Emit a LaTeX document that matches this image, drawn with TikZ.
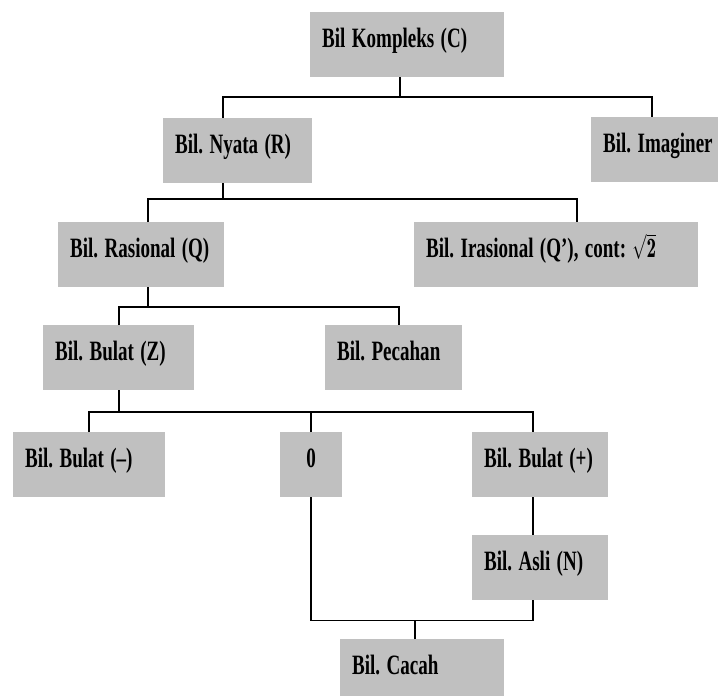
\documentclass[tikz,border=0pt]{standalone}
\usepackage{fontspec}
\usepackage{graphicx}
\newfontfamily\boxfont{Liberation Serif}
\newcommand{\sq}[1]{\scalebox{0.68}[1]{#1}}
\definecolor{boxgray}{HTML}{C0C0C0}
\begin{document}
\begin{tikzpicture}[x=1pt,y=-1pt,
  box/.style={fill=boxgray, anchor=north west, inner xsep=12pt, inner ysep=0pt,
    minimum height=65pt, align=left, text height=15pt, text depth=10pt,
    font=\boxfont\bfseries\frenchspacing\fontsize{28}{30}\selectfont},
  link/.style={draw=black, line width=1.8pt}]
\useasboundingbox (0,0) rectangle (719,695);
\clip (0,0) rectangle (719,695);
% boxes
\node[box, text width=170pt] (komplek) at (310,12) {\sq{Bil Kompleks (C)}};
\node[box, text width=125pt] (nyata) at (163,118) {\sq{Bil. Nyata (R)}};
\node[box, text width=103pt] (imaginer) at (591,117) {\sq{Bil. Imaginer}};
\node[box, text width=142pt] (rasional) at (58,222) {\sq{Bil. Rasional (Q)}};
\node[box, text width=260pt] (irasional) at (414,222) {\sq{Bil. Irasional (Q’), cont: $\sqrt{\mathbf{2}}$}};
\node[box, text width=127pt] (bulatz) at (43,325) {\sq{Bil. Bulat (Z)}};
\node[box, text width=113pt] (pecahan) at (325,325) {\sq{Bil. Pecahan}};
\node[box, text width=128pt] (bulatneg) at (13,432) {\sq{Bil. Bulat (–)}};
\node[box, text width=38pt, align=center] (zero) at (280,432) {\sq{0}};
\node[box, text width=112pt] (bulatpos) at (472,432) {\sq{Bil. Bulat (+)}};
\node[box, text width=112pt] (asli) at (472,535) {\sq{Bil. Asli (N)}};
\node[box, text width=140pt] (cacah) at (340,639) {\sq{Bil. Cacah}};
% connectors
\draw[link] ([xshift=-7pt]komplek.south) -- ++(0,20);
\draw[link] ([xshift=-14.5pt]nyata.north) -- ++(0,-21) -| ([xshift=-2.5pt]imaginer.north);
\draw[link] ([xshift=-14.5pt]nyata.south) -- ++(0,16);
\draw[link] ([xshift=7pt]rasional.north) -- ++(0,-23) -| ([xshift=21pt]irasional.north);
\draw[link] ([xshift=7pt]rasional.south) -- ++(0,20);
\draw[link] (bulatz.north) -- ++(0,-18) -| ([xshift=5.5pt]pecahan.north);
\draw[link] (bulatz.south) -- ++(0,22);
\draw[link] (bulatneg.north) -- ++(0,-20) -| ([xshift=-7pt]bulatpos.north);
\draw[link] (zero.north) -- ++(0,-20);
\draw[link] ([xshift=-7pt]bulatpos.south) -- ([xshift=-7pt]asli.north);
\draw[link] (zero.south) -- ++(0,123) -| ([xshift=-7pt]asli.south);
\draw[link] ([xshift=-7pt]cacah.north) -- ++(0,-19);
\end{tikzpicture}
\end{document}
